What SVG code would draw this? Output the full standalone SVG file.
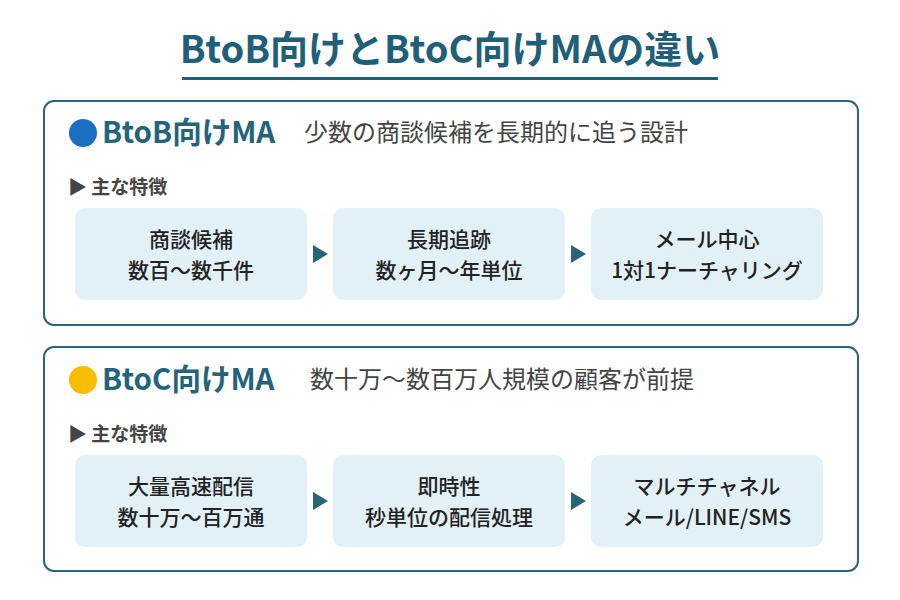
<svg xmlns="http://www.w3.org/2000/svg" width="900" height="600" viewBox="0 0 900 600">
<style>
text{font-family:"Noto Sans CJK JP","Noto Sans",sans-serif}
.panel{fill:#fff;stroke:#2a6478;stroke-width:2}
.box{fill:#e2f1f8}
.h{font-size:29.5px;font-weight:bold;fill:#24637c}
.sub{font-size:24px;fill:#444}
.feat{font-size:19px;font-weight:bold;fill:#444}
.t{font-size:21px;font-weight:500;fill:#222;text-anchor:middle}
.arr{fill:#2a6478}
</style>
<rect width="900" height="600" fill="#fff"/>
<text x="450" y="63" text-anchor="middle" style="font-size:38px;font-weight:bold;fill:#1f5f7a">BtoB向けとBtoC向けMAの違い</text>
<rect x="182" y="77" width="536" height="3" fill="#1f5f7a"/>
<g id="btob">
<rect class="panel" x="44" y="101" width="814" height="224" rx="10"/>
<circle cx="83" cy="133" r="14" fill="#1a6fc0"/>
<text class="h" x="102" y="143">BtoB向けMA</text>
<text class="sub" x="304" y="141">少数の商談候補を長期的に追う設計</text>
<text class="feat" x="68" y="194">▶ 主な特徴</text>
</g>
<g id="b1"><rect class="box" x="75" y="208" width="232" height="92" rx="10"/><text class="t" x="191" y="247">商談候補</text><text class="t" x="191" y="278">数百〜数千件</text></g>
<g id="b2"><rect class="box" x="333" y="208" width="232" height="92" rx="10"/><text class="t" x="449" y="247">長期追跡</text><text class="t" x="449" y="278">数ヶ月〜年単位</text></g>
<g id="b3"><rect class="box" x="591" y="208" width="232" height="92" rx="10"/><text class="t" x="707" y="247">メール中心</text><text class="t" x="707" y="278">1対1ナーチャリング</text></g>
<g id="btoc">
<rect class="panel" x="44" y="347" width="814" height="224" rx="10"/>
<circle cx="83" cy="380" r="14" fill="#f7bd00"/>
<text class="h" x="102" y="390">BtoC向けMA</text>
<text class="sub" x="310" y="388">数十万〜数百万人規模の顧客が前提</text>
<text class="feat" x="68" y="441">▶ 主な特徴</text>
</g>
<g id="c1"><rect class="box" x="75" y="455" width="232" height="92" rx="10"/><text class="t" x="191" y="494">大量高速配信</text><text class="t" x="191" y="525">数十万〜百万通</text></g>
<g id="c2"><rect class="box" x="333" y="455" width="232" height="92" rx="10"/><text class="t" x="449" y="494">即時性</text><text class="t" x="449" y="525">秒単位の配信処理</text></g>
<g id="c3"><rect class="box" x="591" y="455" width="232" height="92" rx="10"/><text class="t" x="707" y="494">マルチチャネル</text><text class="t" x="707" y="525">メール/LINE/SMS</text></g>
<g id="connectors">
<polygon class="arr" points="313,245 328,254 313,263"/>
<polygon class="arr" points="571,245 586,254 571,263"/>
<polygon class="arr" points="313,492 328,501 313,510"/>
<polygon class="arr" points="571,492 586,501 571,510"/>
</g>
</svg>
